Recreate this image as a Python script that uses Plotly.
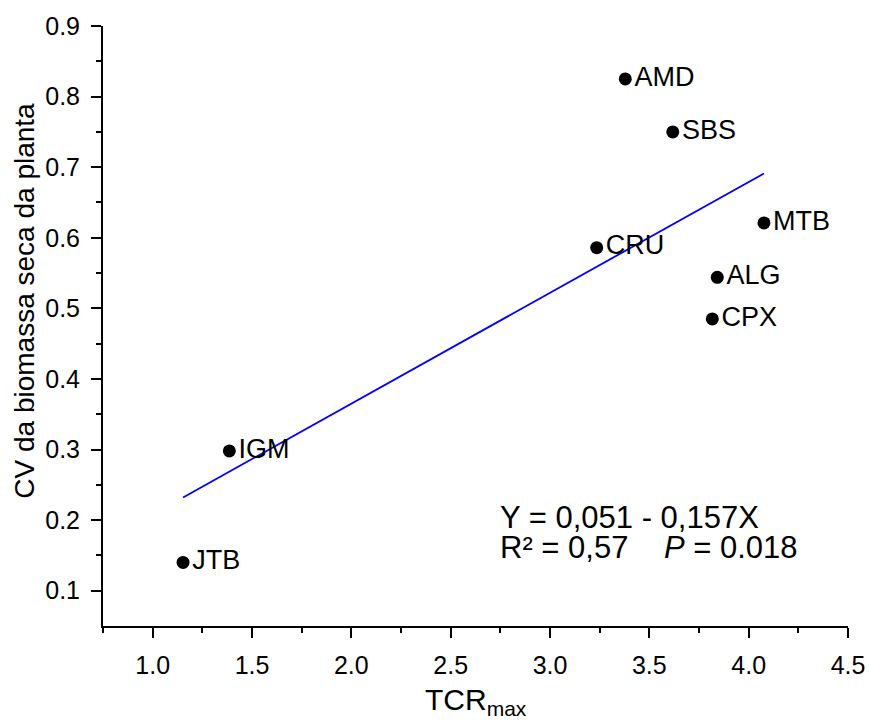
import plotly.graph_objects as go

# Data
genotypes = ["JTB", "IGM", "CRU", "AMD", "SBS", "CPX", "ALG", "MTB"]
tcr_max = [1.153, 1.386, 3.235, 3.379, 3.618, 3.817, 3.842, 4.077]
cv_biomassa = [0.140, 0.298, 0.586, 0.825, 0.750, 0.485, 0.544, 0.621]

# Regression coefficients (as reported)
intercept = 0.051
slope = 0.157

FONT = "Arial, Liberation Sans, sans-serif"

x_fit = [min(tcr_max), max(tcr_max)]
y_fit = [intercept + slope * v for v in x_fit]

fig = go.Figure()
fig.add_trace(go.Scatter(
    x=x_fit, y=y_fit, mode="lines",
    line=dict(color="#0000FF", width=1.8),
    showlegend=False, hoverinfo="skip",
))
fig.add_trace(go.Scatter(
    x=tcr_max, y=cv_biomassa, mode="markers+text",
    text=genotypes, textposition="middle right",
    textfont=dict(family=FONT, size=27, color="black"),
    marker=dict(color="black", size=13),
    showlegend=False,
))

axis_common = dict(
    showline=True, linecolor="black", linewidth=2,
    ticks="outside", ticklen=10, tickwidth=2, tickcolor="black",
    showgrid=False, zeroline=False, mirror=False, automargin=False,
    tickfont=dict(family=FONT, size=25, color="black"),
)

fig.update_xaxes(
    range=[0.75, 4.5], tickvals=[1.0, 1.5, 2.0, 2.5, 3.0, 3.5, 4.0, 4.5],
    ticktext=["1.0", "1.5", "2.0", "2.5", "3.0", "3.5", "4.0", "4.5"],
    minor=dict(tickvals=[0.75, 1.25, 1.75, 2.25, 2.75, 3.25, 3.75, 4.25],
               ticklen=5, tickwidth=2, tickcolor="black", ticks="outside"),
    ticklabelstandoff=6,
    **axis_common,
)
fig.update_yaxes(
    range=[0.05, 0.9], tickvals=[0.1, 0.2, 0.3, 0.4, 0.5, 0.6, 0.7, 0.8, 0.9],
    ticktext=["0.1", "0.2", "0.3", "0.4", "0.5", "0.6", "0.7", "0.8", "0.9"],
    minor=dict(tickvals=[0.15, 0.25, 0.35, 0.45, 0.55, 0.65, 0.75, 0.85],
               ticklen=5, tickwidth=2, tickcolor="black", ticks="outside"),
    ticklabelstandoff=6,
    **axis_common,
)

annotations = [
    dict(text="CV da biomassa seca da planta", x=-0.1054, y=0.543,
         xref="paper", yref="paper", textangle=-90, showarrow=False,
         xanchor="center", yanchor="middle",
         font=dict(family=FONT, size=28, color="black")),
    dict(text="TCR<sub>max</sub>", x=0.5, y=-0.125,
         xref="paper", yref="paper", showarrow=False,
         xanchor="center", yanchor="middle",
         font=dict(family=FONT, size=30, color="black")),
    dict(text="Y = 0,051 - 0,157X", x=0.5305, y=0.181,
         xref="paper", yref="paper", showarrow=False,
         xanchor="left", yanchor="middle",
         font=dict(family=FONT, size=31, color="black")),
    dict(text="R² = 0,57", x=0.5305, y=0.131,
         xref="paper", yref="paper", showarrow=False,
         xanchor="left", yanchor="middle",
         font=dict(family=FONT, size=31, color="black")),
    dict(text="<i>P</i> = 0.018", x=0.750, y=0.131,
         xref="paper", yref="paper", showarrow=False,
         xanchor="left", yanchor="middle",
         font=dict(family=FONT, size=31, color="black")),
]

fig.update_layout(
    width=869, height=722,
    margin=dict(l=103, r=21, t=26, b=96),
    paper_bgcolor="white", plot_bgcolor="white",
    annotations=annotations,
    font=dict(family=FONT, color="black"),
)

fig.write_html("out.html", config={"displayModeBar": False},
               post_script="document.body.style.margin='0';document.body.style.padding='0';")
